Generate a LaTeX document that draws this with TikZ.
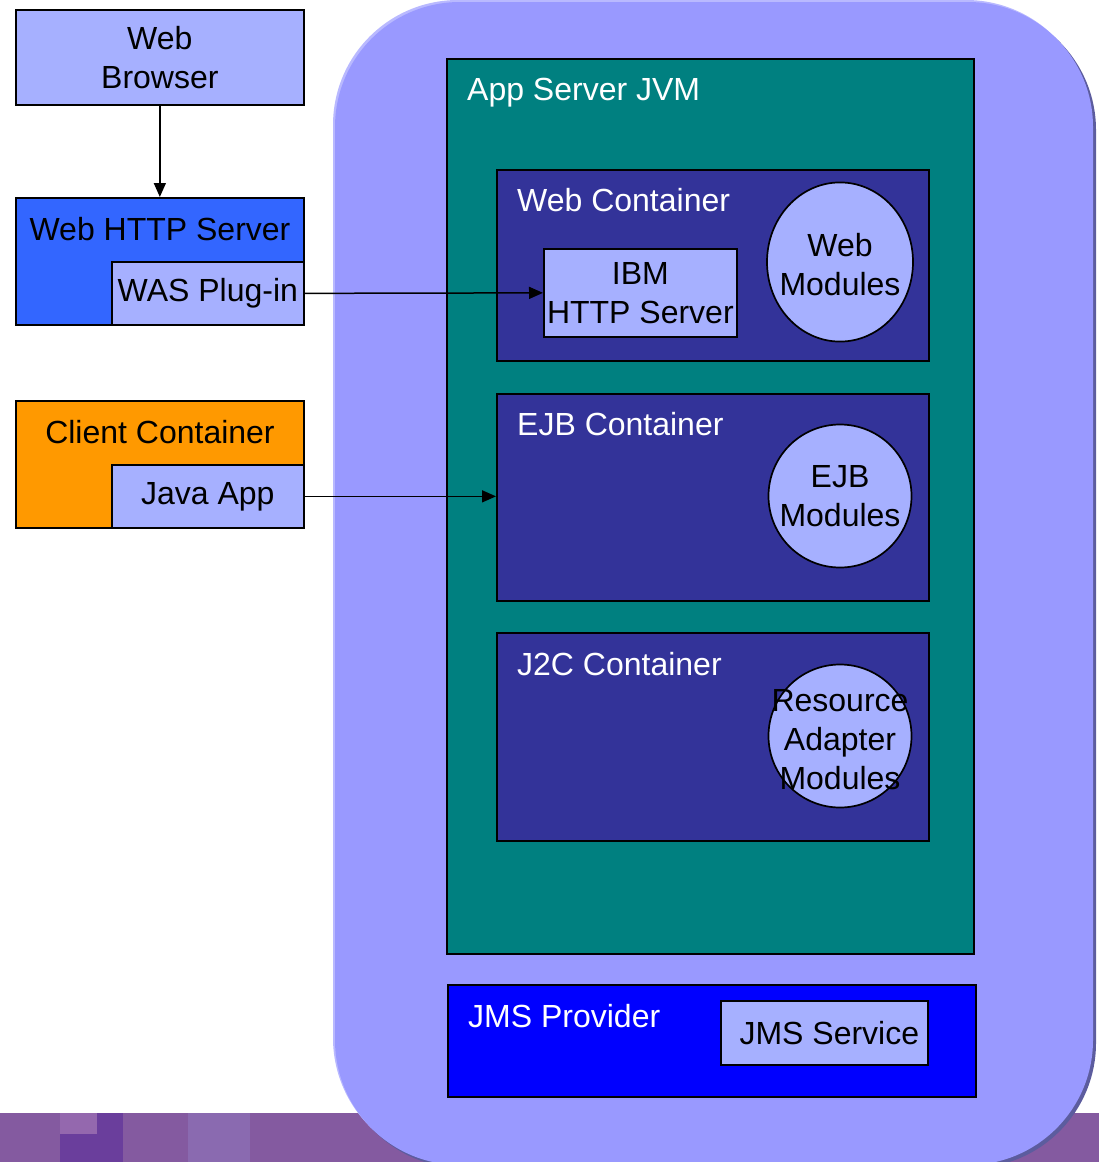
\documentclass[tikz,border=0pt]{standalone}
\usepackage{fontspec}
\setmainfont{Liberation Sans}
\usetikzlibrary{arrows.meta}
\definecolor{lightbox}{HTML}{A6B0FF}
\definecolor{bigbg}{HTML}{9999FF}
\definecolor{bigedge}{HTML}{B9B9FF}
\definecolor{bigshadow}{HTML}{5C5C9E}
\definecolor{jvmteal}{HTML}{008080}
\definecolor{navybox}{HTML}{333399}
\definecolor{httpblue}{HTML}{3366FF}
\definecolor{clientorange}{HTML}{FF9900}
\definecolor{jmsblue}{HTML}{0000FF}
\definecolor{band}{HTML}{845AA0}
\definecolor{bandlight}{HTML}{9468AE}
\definecolor{banddark}{HTML}{6A3E9C}
\definecolor{bandmid}{HTML}{8A6AB0}
\begin{document}
\begin{tikzpicture}[x=1pt,y=-1pt,
  txt/.style={font=\fontsize{32}{39}\selectfont},
  boxstyle/.style={draw=black,line width=1.7pt,inner sep=0pt,anchor=north west},
  lbox/.style={boxstyle,fill=lightbox,txt,align=center},
  whitelabel/.style={txt,text=white,inner sep=0pt,anchor=base west},
  blacklabel/.style={txt,text=black,inner sep=0pt,anchor=base},
  conn/.style={line width=1.5pt,-{Triangle[length=14pt,width=12pt]}}
]
\useasboundingbox (0,0) rectangle (1099,1162);
\begin{scope}
\clip (0,0) rectangle (1099,1162);
% bottom band
\fill[band] (0,1113) rectangle (1099,1162);
\fill[bandlight] (60,1113) rectangle (97,1134);
\fill[banddark] (60,1134) rectangle (97,1162);
\fill[banddark] (97,1113) rectangle (123,1162);
\fill[bandmid] (188,1113) rectangle (250,1162);
% big rounded container
\fill[bigshadow] (338,5) [rounded corners=125pt] rectangle (1096,1168);
\fill[bigedge] (333,0) [rounded corners=125pt] rectangle (1091,1163);
\fill[bigbg] (335,2) [rounded corners=125pt] rectangle (1093,1165);
\end{scope}
% App server JVM
\node[boxstyle,fill=jvmteal,minimum width=527pt,minimum height=895pt] (jvm) at (446,58) {};
\node[whitelabel] (jvmlabel) at (467,100) {App Server JVM};
% Web container
\node[boxstyle,fill=navybox,minimum width=432pt,minimum height=191pt] (webc) at (496,169) {};
\node[whitelabel] (webclabel) at (517,211) {Web Container};
\node[lbox,minimum width=193pt,minimum height=88pt] (ibm) at (543,248) {IBM\\HTTP Server};
\node[circle,draw=black,line width=1.7pt,fill=lightbox,inner sep=0pt,minimum size=146pt,yscale=1.09] (webmod) at (840,262) {};
\node[txt,align=center,inner sep=0pt] (webmodtxt) at (840,265) {Web\\Modules};
% EJB container
\node[boxstyle,fill=navybox,minimum width=432pt,minimum height=207pt] (ejbc) at (496,393) {};
\node[whitelabel] (ejbclabel) at (517,435) {EJB Container};
\node[circle,draw=black,line width=1.7pt,fill=lightbox,txt,align=center,inner sep=0pt,minimum size=143pt] (ejbmod) at (840,496) {EJB\\Modules};
% J2C container
\node[boxstyle,fill=navybox,minimum width=432pt,minimum height=208pt] (j2cc) at (496,632) {};
\node[whitelabel] (j2cclabel) at (517,675) {J2C Container};
\node[circle,draw=black,line width=1.7pt,fill=lightbox,inner sep=0pt,minimum size=143pt] (ramod) at (840,736) {};
\node[txt,align=center,inner sep=0pt] (ramodtxt) at (840,740) {Resource\\Adapter\\Modules};
% JMS provider
\node[boxstyle,fill=jmsblue,minimum width=528pt,minimum height=112pt] (jms) at (447,984) {};
\node[whitelabel] (jmslabel) at (468,1027) {JMS Provider};
\node[lbox,minimum width=207pt,minimum height=64pt] (jmsservice) at (720,1000) {\hspace*{10pt}JMS Service};
% Left side
\node[lbox,minimum width=288pt,minimum height=95pt] (browser) at (15,9) {Web\\Browser};
\node[boxstyle,fill=httpblue,minimum width=288pt,minimum height=127pt] (http) at (15,197) {};
\node[blacklabel] (httplabel) at (160,240) {Web HTTP Server};
\node[lbox,minimum width=192pt,minimum height=63pt] (plugin) at (111,261) {WAS Plug-in};
\node[boxstyle,fill=clientorange,minimum width=288pt,minimum height=127pt] (client) at (15,400) {};
\node[blacklabel] (clientlabel) at (160,443) {Client Container};
\node[lbox,minimum width=192pt,minimum height=63pt] (javaapp) at (111,464) {Java App};
% connectors
\draw[conn] (browser.south) -- (http.north);
\draw[conn] (plugin.east) -- (ibm.west);
\draw[conn] (javaapp.east) -- (javaapp.east -| ejbc.west);
\end{tikzpicture}
\end{document}
